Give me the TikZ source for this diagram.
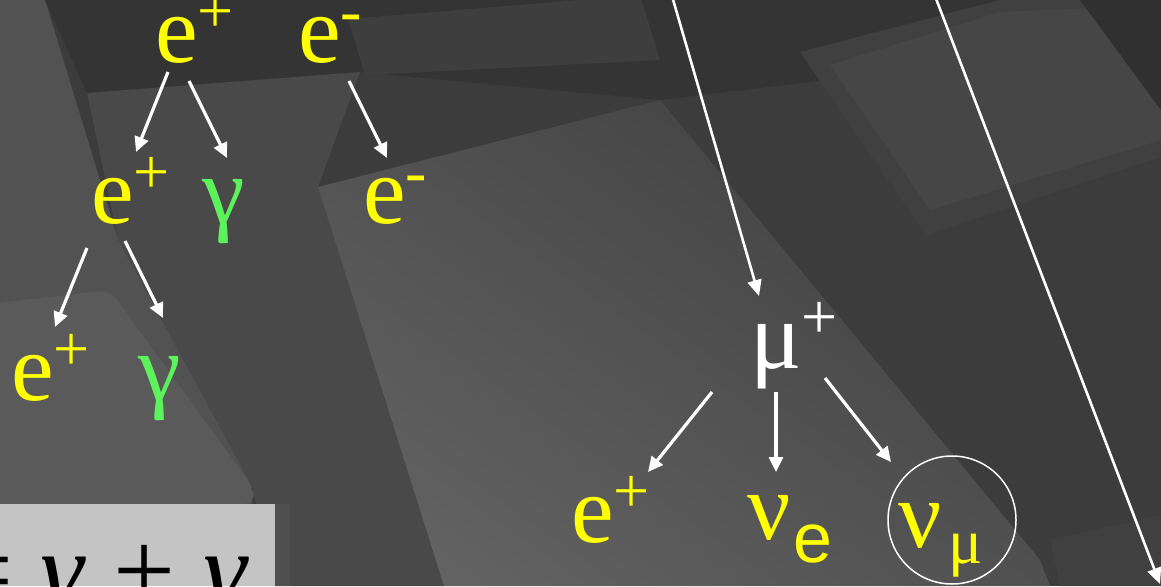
\documentclass[tikz,border=0pt]{standalone}
\usepackage{fontspec}
\setmainfont{Liberation Serif}
\newfontfamily\serf{Liberation Serif}
\newfontfamily\sansf{Liberation Sans}
\usetikzlibrary{arrows.meta}
\definecolor{pyel}{HTML}{FFFF00}
\definecolor{pgrn}{HTML}{5CF25C}
\definecolor{boxgray}{HTML}{C4C4C4}
\newcommand\bigf{\serf\fontsize{96}{100}\selectfont}
\newcommand\supf{\serf\fontsize{64}{64}\selectfont}
\newcommand\psup[1]{\raisebox{30pt}{\supf #1}}
\tikzset{
  lbl/.style={inner sep=0pt, anchor=base west, font=\bigf},
  arr/.style={draw=white, line width=3.2pt, -{Triangle[length=15pt,width=14pt]}},
  longarr/.style={draw=white, line width=2.6pt, -{Triangle[length=16pt,width=14pt]}},
}
\begin{document}
\begin{tikzpicture}[x=1pt,y=-1pt]
\useasboundingbox (0,0) rectangle (1161,586);
% background
\fill[color={rgb,255:red,60;green,60;blue,60}] (0,0) rectangle (1161,586);
\fill[color={rgb,255:red,52;green,52;blue,52}] (45,0) -- (1161,0) -- (1161,40) -- (660,100) -- (360,72) -- (87,93) -- cycle;
\fill[color={rgb,255:red,62;green,62;blue,62}] (348,19) -- (640,-5) -- (660,60) -- (365,75) -- cycle;
\fill[color={rgb,255:red,82;green,82;blue,82}] (0,0) -- (45,0) -- (118,239) -- (252,486) -- (252,504) -- (0,504) -- cycle;
\fill[color={rgb,255:red,73;green,73;blue,73}] (87,93) -- (360,72) -- (318,187) -- (444,586) -- (275,586) -- (252,486) -- (118,239) -- cycle;
\fill[color={rgb,255:red,90;green,90;blue,90}, rounded corners=12pt] (-20,305) -- (110,290) -- (252,486) -- (256,504) -- (-20,504) -- cycle;
\begin{scope}
  \clip (318,187) -- (660,100) -- (1040,560) -- (1050,586) -- (444,586) -- cycle;
  \shade[top color={rgb,255:red,62;green,62;blue,62}, bottom color={rgb,255:red,100;green,100;blue,100}, shading angle=-35] (250,60) rectangle (1120,640);
\end{scope}
\fill[color={rgb,255:red,64;green,64;blue,64}] (800,52) -- (1000,0) -- (1161,0) -- (1161,157) -- (926,235) -- cycle;
\fill[color={rgb,255:red,70;green,70;blue,70}] (830,65) -- (1000,12) -- (1161,5) -- (1161,140) -- (930,210) -- cycle;
\fill[color={rgb,255:red,48;green,48;blue,48}] (1080,0) -- (1161,0) -- (1161,110) -- cycle;
\fill[color={rgb,255:red,64;green,64;blue,64}] (1050,540) -- (1161,515) -- (1161,586) -- (1060,586) -- cycle;
% grey box
\fill[color={rgb,255:red,80;green,80;blue,80}] (275,504) rectangle (290,586);
\fill[boxgray] (0,504) rectangle (275,586);
\begin{scope}
  \clip (0,504) rectangle (275,586);
  \node[inner sep=0pt, anchor=base west, font=\serf\fontsize{110}{110}\selectfont, text=black] (eq) at (-49,607) {= \textit{γ} + \textit{γ}};
\end{scope}
% labels
\node[lbl, text=pyel] (ep1) at (155,63) {e\psup{+}};
\node[lbl, text=pyel] (em1) at (298,63) {e\psup{-}};
\node[lbl, text=pyel] (ep2) at (91,223) {e\psup{+}};
\node[lbl, text=pgrn] (g2) at (202,223) {γ};
\node[lbl, text=pyel] (em2) at (363,223) {e\psup{-}};
\node[lbl, text=pyel] (ep3) at (11,400) {e\psup{+}};
\node[lbl, text=pgrn] (g3) at (138,400) {γ};
\node[lbl, text=white] (mu) at (750,368) {μ\psup{+}};
\node[lbl, text=pyel] (ep4) at (571,542) {e\psup{+}};
\node[lbl, text=pyel] (nue) at (747,539) {ν\kern3pt\raisebox{-23pt}{\sansf\fontsize{70}{70}\selectfont e}};
\node[lbl, text=pyel] (num) at (898,547) {ν\kern7pt\raisebox{-16pt}{\supf μ}};
\node[draw=white, line width=1.5pt, circle, minimum size=128pt, inner sep=0pt] (circ) at (952,520) {};
\coordinate (topA) at (672,-4);
\coordinate (topB) at (935,-4);
\coordinate (botB) at (1160,584);
% arrows
\draw[arr] ([shift={(13,9)}]ep1.base west) -- ([shift={(45,-71)}]ep2.base west);
\draw[arr] ([shift={(34,18)}]ep1.base west) -- ([shift={(25,-65)}]g2.base west);
\draw[arr] ([shift={(51,18)}]em1.base west) -- ([shift={(24,-65)}]em2.base west);
\draw[arr] ([shift={(-4,25)}]ep2.base west) -- ([shift={(44,-73)}]ep3.base west);
\draw[arr] ([shift={(34,18)}]ep2.base west) -- ([shift={(25,-82)}]g3.base west);
\draw[longarr] (topA) -- ([shift={(9,-72)}]mu.base west);
\draw[longarr] (topB) -- (botB);
\draw[arr] ([shift={(-38,24)}]mu.base west) -- ([shift={(77,-70)}]ep4.base west);
\draw[arr] ([shift={(26,24)}]mu.base west) -- ([shift={(29,-67)}]nue.base west);
\draw[arr] ([shift={(75,10)}]mu.base west) -- ([shift={(-61,-58)}]circ.center);
\end{tikzpicture}
\end{document}
